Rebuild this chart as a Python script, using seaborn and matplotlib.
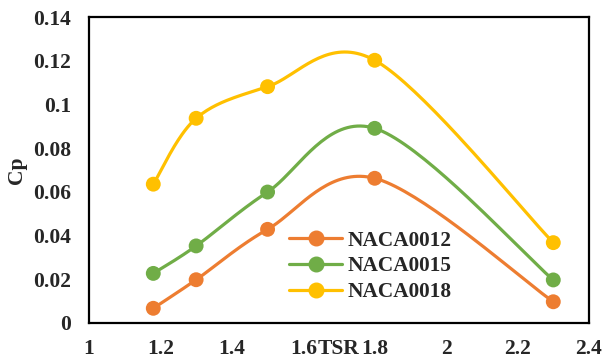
import numpy as np
import pandas as pd
import matplotlib
matplotlib.use("Agg")
import matplotlib.pyplot as plt
import seaborn as sns
from matplotlib.lines import Line2D

# ---- data ----
tsr = [1.18, 1.30, 1.50, 1.80, 2.30]
naca0012 = [0.0066, 0.0197, 0.0428, 0.0662, 0.0096]
naca0015 = [0.0226, 0.0352, 0.0599, 0.0891, 0.0196]
naca0018 = [0.0635, 0.0937, 0.1082, 0.1203, 0.0367]
series_names = ["NACA0012", "NACA0015", "NACA0018"]
x_ticks = [1.0, 1.2, 1.4, 1.6, 1.8, 2.0, 2.2, 2.4]
x_tick_labels = ["1", "1.2", "1.4", "1.6", "1.8", "2", "2.2", "2.4"]
y_ticks = [0.0, 0.02, 0.04, 0.06, 0.08, 0.10, 0.12, 0.14]
y_tick_labels = ["0", "0.02", "0.04", "0.06", "0.08", "0.1", "0.12", "0.14"]

colors = ["#ED7D31", "#70AD47", "#FFC000"]

sns.set_style("white")
plt.rcParams["font.family"] = ["Liberation Serif", "DejaVu Serif"]
plt.rcParams["font.weight"] = "bold"

FS = 15.5


def smooth(x, y, n=40):
    """Excel-style smoothed line (Catmull-Rom as cubic Bezier)."""
    P = np.column_stack([x, y]).astype(float)
    ext = np.vstack([P[0], P, P[-1]])
    out = []
    t = np.linspace(0, 1, n)[:, None]
    for i in range(len(P) - 1):
        p0, p1, p2, p3 = ext[i], ext[i + 1], ext[i + 2], ext[i + 3]
        c1 = p1 + (p2 - p0) / 6
        c2 = p2 - (p3 - p1) / 6
        seg = (1 - t) ** 3 * p1 + 3 * (1 - t) ** 2 * t * c1 + 3 * (1 - t) * t ** 2 * c2 + t ** 3 * p2
        out.append(seg if i == 0 else seg[1:])
    return np.vstack(out)


pts = pd.DataFrame({
    "TSR": tsr * 3,
    "Cp": naca0012 + naca0015 + naca0018,
    "series": sum([[s] * len(tsr) for s in series_names], []),
})

curves = []
for name, vals in zip(series_names, [naca0012, naca0015, naca0018]):
    c = smooth(tsr, vals)
    curves.append(pd.DataFrame({"TSR": c[:, 0], "Cp": c[:, 1], "series": name, "order": np.arange(len(c))}))
curve_df = pd.concat(curves, ignore_index=True)

fig = plt.figure(figsize=(6.03, 3.62), dpi=100)
ax = fig.add_axes([89 / 603, 1 - 322.7 / 362, 500 / 603, 305.4 / 362])

palette = dict(zip(series_names, colors))
sns.lineplot(data=curve_df, x="TSR", y="Cp", hue="series", palette=palette,
             sort=False, estimator=None, units="series", linewidth=2.3, legend=False, ax=ax)
sns.scatterplot(data=pts, x="TSR", y="Cp", hue="series", palette=palette,
                s=115, linewidth=0, legend=False, ax=ax, zorder=3)

ax.set_xlim(1.0, 2.4)
ax.set_ylim(0, 0.14)
ax.set_xticks(x_ticks)
ax.set_xticklabels(x_tick_labels, fontsize=FS, fontweight="bold")
ax.set_yticks(y_ticks)
ax.set_yticklabels(y_tick_labels, fontsize=FS, fontweight="bold")
ax.tick_params(axis="both", length=0)
ax.tick_params(axis="x", pad=12)
ax.tick_params(axis="y", pad=13)

for sp in ax.spines.values():
    sp.set_visible(True)
    sp.set_color("black")
    sp.set_linewidth(1.6)

ax.set_xlabel("TSR", fontsize=FS, fontweight="bold", va="center")
ax.xaxis.set_label_coords((338 - 89) / 500, (322.7 - 349) / 305.4)
ax.set_ylabel("Cp", fontsize=FS, fontweight="bold", va="center")
ax.yaxis.set_label_coords((17 - 89) / 500, (322.7 - 170) / 305.4)

handles = [Line2D([0], [0], color=c, lw=2.3, marker="o", markersize=10.5) for c in colors]
ax.legend(handles, series_names, loc="upper left",
          bbox_to_anchor=(289 / 603, 1 - 230.5 / 362), bbox_transform=fig.transFigure,
          frameon=False, borderpad=0, borderaxespad=0, handlelength=2.5,
          handletextpad=0.24, labelspacing=0.28, prop={"size": 15.3, "weight": "bold"})

fig.savefig("out.png", dpi=100)
